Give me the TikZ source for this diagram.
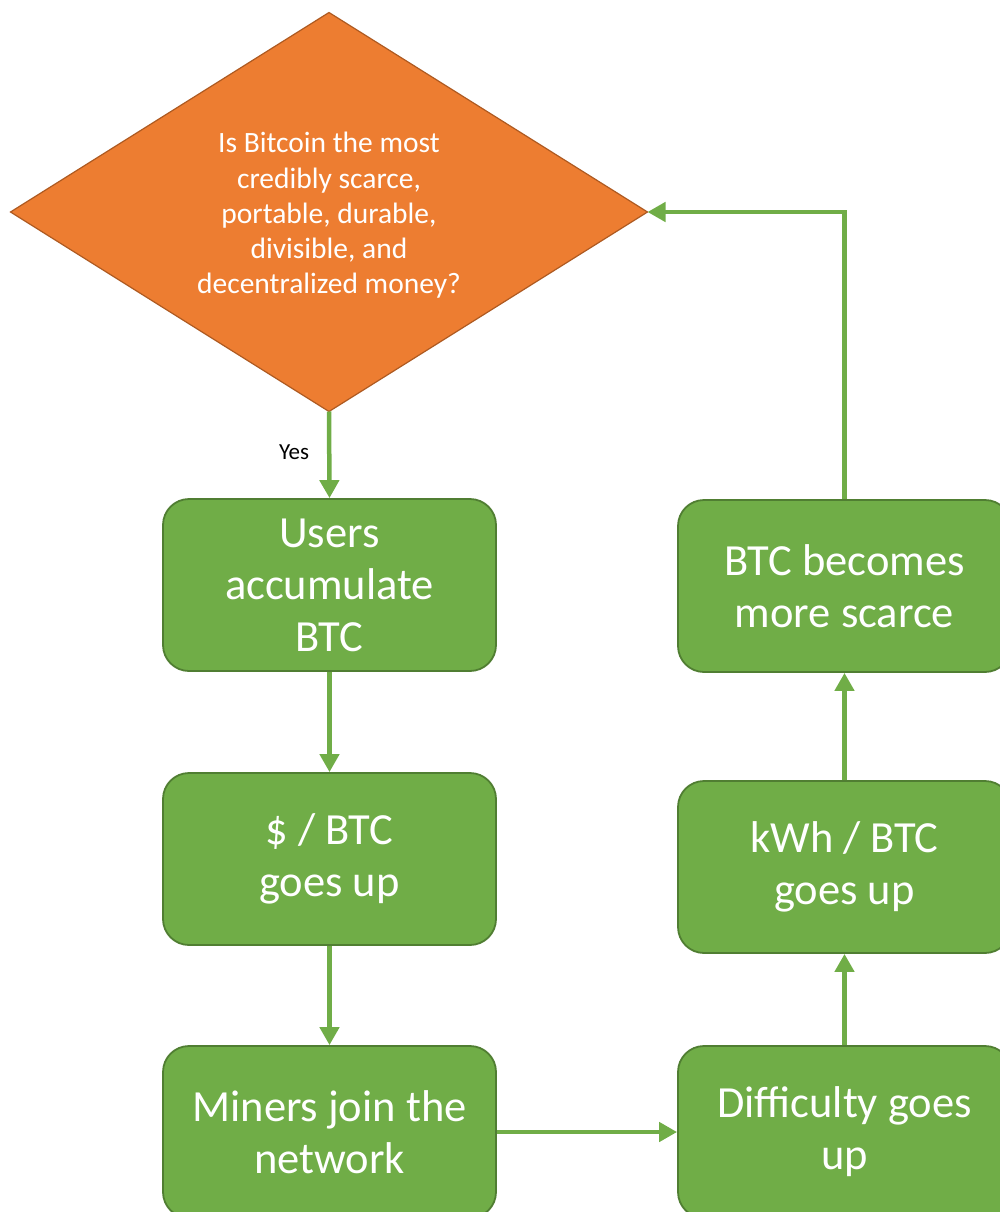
\documentclass[tikz,border=0pt]{standalone}
\usepackage{fontspec}
\setmainfont{Carlito}
\usetikzlibrary{shapes.geometric,arrows.meta}
\definecolor{boxgreen}{HTML}{70AD47}
\definecolor{boxedge}{HTML}{507E32}
\definecolor{diafill}{HTML}{ED7D31}
\definecolor{diaedge}{HTML}{AE5A21}
\tikzset{
  stepbox/.style={rectangle, rounded corners=26pt, fill=boxgreen, draw=boxedge, line width=1.8pt,
    minimum width=333pt, minimum height=172pt, inner sep=0pt, text=white, align=center,
    font=\fontsize{44.5}{52}\selectfont},
  decision/.style={diamond, fill=diafill, draw=diaedge, line width=1.2pt, inner sep=0pt, outer sep=0pt,
    minimum width=637pt, minimum height=399pt},
  decisiontext/.style={text=white, align=center, font=\fontsize{29.5}{35.3}\selectfont},
  flow/.style={draw=boxgreen, line width=4.5pt, -{Triangle[length=18pt,width=19pt]}},
}
\begin{document}
\begin{tikzpicture}[x=1pt,y=-1pt]
\useasboundingbox (0,0) rectangle (1000,1212);
\clip (0,0) rectangle (1000,1212);
\node[decision] (q) at (329,212) {};
\node[decisiontext, yshift=-3.5pt] (qtext) at (q.center) {Is Bitcoin the most\\credibly scarce,\\portable, durable,\\divisible, and\\decentralized money?};
\node[stepbox] (users) at (329.5,585) {Users\\accumulate\\BTC};
\node[stepbox] (price) at (329.5,859) {\$ / BTC\\goes up};
\node[stepbox] (miners) at (329.5,1132) {Miners join the\\network};
\node[stepbox] (diff) at (844.5,1132) {Difficulty goes\\up};
\node[stepbox] (kwh) at (844.5,867) {kWh / BTC\\goes up};
\node[stepbox] (scarce) at (844.5,586) {BTC becomes\\more scarce};
\draw[flow] (q.south) -- node[left=18pt, inner sep=0pt, yshift=3pt, text=black, font=\fontsize{23}{26}\selectfont] {Yes} (users.north);
\draw[flow] (users.south) -- (price.north);
\draw[flow] (price.south) -- (miners.north);
\draw[flow] (miners.east) -- (diff.west);
\draw[flow] (diff.north) -- (kwh.south);
\draw[flow] (kwh.north) -- (scarce.south);
\draw[flow] (scarce.north) |- (q.east);
\end{tikzpicture}
\end{document}
